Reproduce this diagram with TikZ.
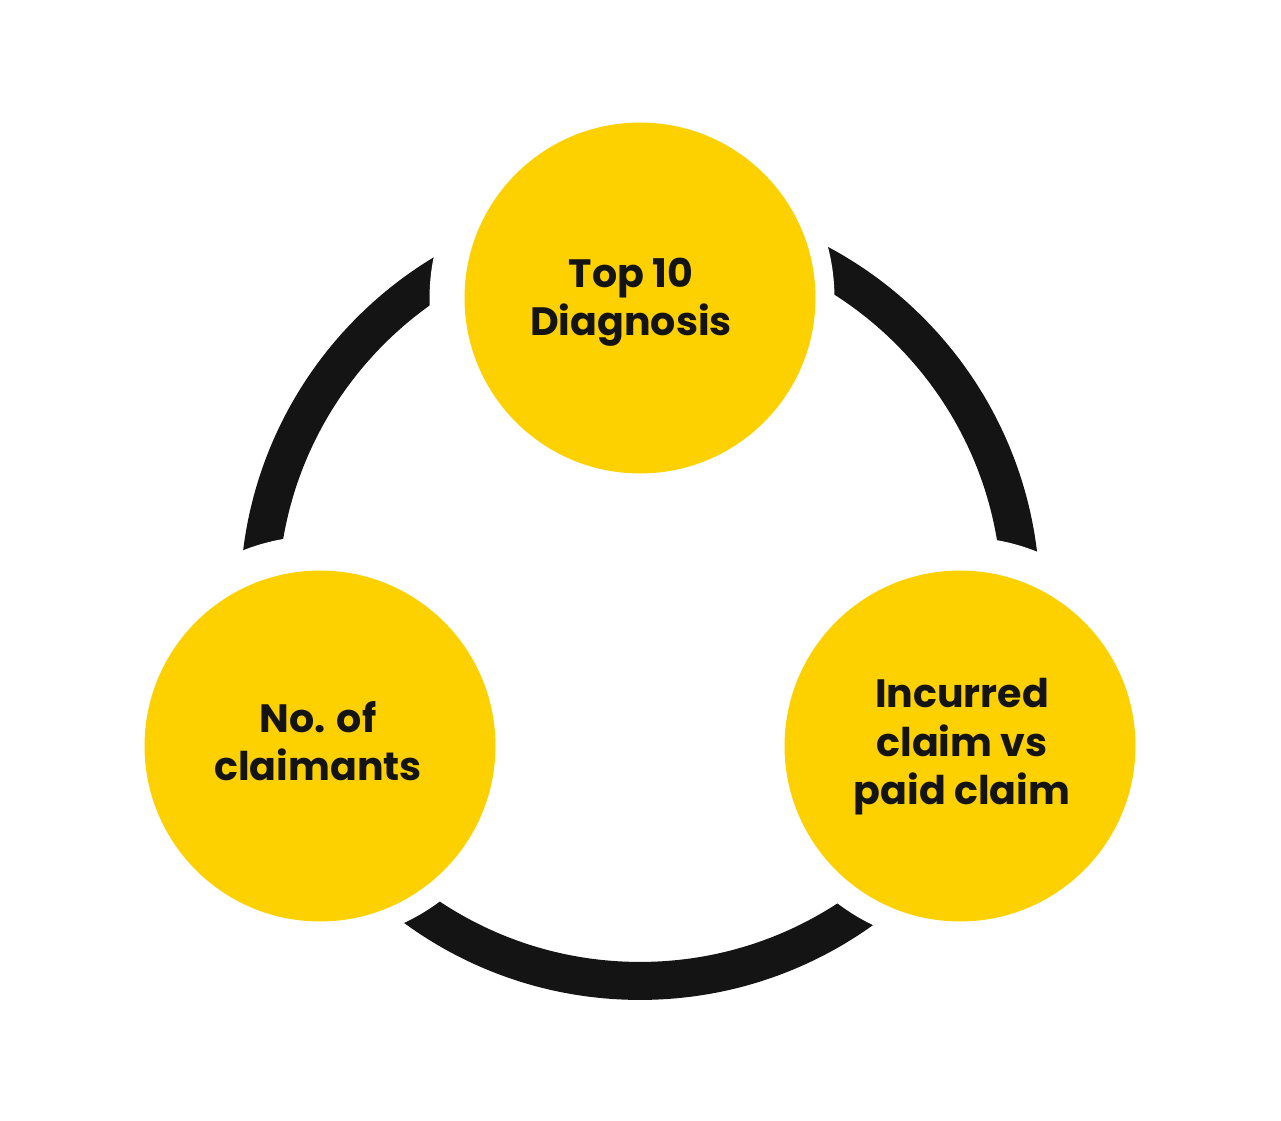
\documentclass[tikz,border=0pt]{standalone}
\usepackage{fontspec}
\setmainfont{Poppins}
\usepackage{tikz}
\usetikzlibrary{positioning}
\definecolor{Sun}{HTML}{FDD000}
\definecolor{Ink}{HTML}{141414}
\tikzset{
  ring/.style={draw=Ink, line width=0.76cm},
  halo/.style={fill=white},
  topic/.style={circle, fill=Sun, inner sep=0pt, minimum size=7.02cm},
  caption/.style={align=center, text=Ink, inner sep=0pt,
                  font=\fontsize{22.5}{27.6}\selectfont\bfseries},
}
\begin{document}
\begin{tikzpicture}[x=0.02cm, y=-0.02cm]
  \useasboundingbox (0,0) rectangle (1281,1121);
  \coordinate (hub) at (640,600);
  \draw[ring] (hub) circle (7.62cm);
  % white gaps round the circles
  \fill[halo] (632,298) circle (4.05cm);
  \fill[halo] (318,739) circle (4.06cm);
  \fill[halo] (961,741) circle (4.08cm);
  \node[topic] (diag) at (640,298) {};
  \node[topic] (count) at (320,746) {};
  \node[topic] (paid) at (960,746) {};
  \node[caption] (diag text) at (631,302) {Top 10\\Diagnosis};
  \node[caption] (count text) at (318,741) {No. of\\claimants};
  \node[caption] (paid text) at (962,747) {Incurred\\claim vs\\paid claim};
\end{tikzpicture}
\end{document}
